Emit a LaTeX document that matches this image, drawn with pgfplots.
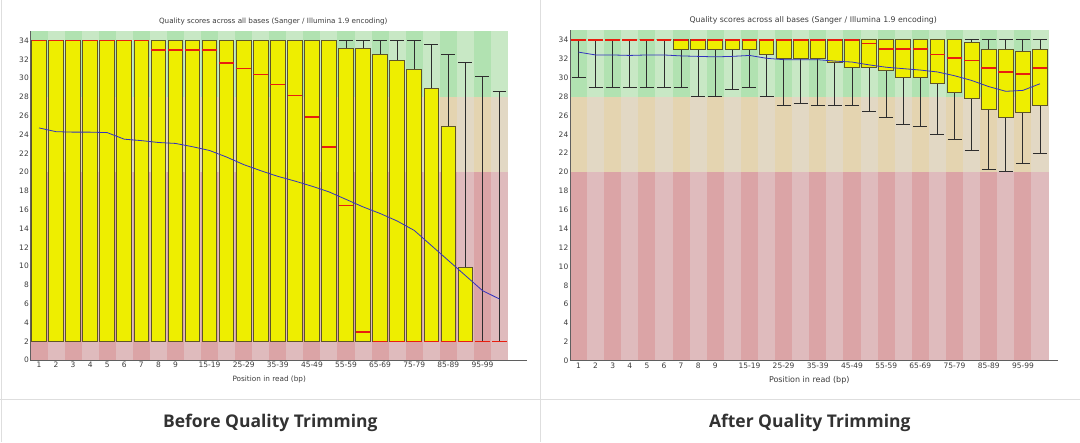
\documentclass[border=0pt]{standalone}
\usepackage{pgfplots}
\pgfplotsset{compat=1.18}
\usepackage{pgfplotstable}
\usepgfplotslibrary{statistics}
\usepackage{fontspec}
\setmainfont{DejaVu Sans}
\newfontfamily\capfont{Open Sans}

\definecolor{gd}{RGB}{177,226,177}
\definecolor{gl}{RGB}{200,232,197}
\definecolor{od}{RGB}{228,212,176}
\definecolor{ol}{RGB}{226,216,196}
\definecolor{rd}{RGB}{219,164,166}
\definecolor{rl}{RGB}{223,187,189}
\definecolor{boxyellow}{RGB}{238,238,0}
\definecolor{boxedge}{RGB}{95,85,40}
\definecolor{whisk}{RGB}{45,45,45}
\definecolor{medred}{RGB}{232,30,15}
\definecolor{meanblue}{RGB}{50,50,190}
\definecolor{axisgray}{RGB}{95,95,95}
\definecolor{ticktext}{RGB}{60,60,60}
\definecolor{framegray}{RGB}{222,222,222}
\definecolor{captext}{RGB}{50,50,50}

\pgfplotstableread{
pos lw lq med uq uw mean
1 2 2 34 34 34 24.7
2 2 2 34 34 34 24.3
3 2 2 34 34 34 24.25
4 2 2 34 34 34 24.25
5 2 2 34 34 34 24.2
6 2 2 34 34 34 23.5
7 2 2 34 34 34 23.35
8 2 2 33 34 34 23.15
9 2 2 33 34 34 23.05
10 2 2 33 34 34 22.7
11 2 2 33 34 34 22.3
12 2 2 31.6 34 34 21.6
13 2 2 31.0 34 34 20.8
14 2 2 30.4 34 34 20.15
15 2 2 29.3 34 34 19.55
16 2 2 28.15 34 34 19.05
17 2 2 25.85 34 34 18.5
18 2 2 22.65 34 34 17.9
19 2 2 16.45 33.1 34 17.1
20 2 2 3.0 33.1 34 16.3
21 2 2 2 32.5 34 15.6
22 2 2 2 31.9 34 14.8
23 2 2 2 30.9 34 13.8
24 2 2 2 28.85 33.6 12.2
25 2 2 2 24.9 32.5 10.6
26 2 2 2 9.85 31.7 9.0
27 2 2 2 2 30.2 7.4
28 2 2 2 2 28.6 6.5
}\before

\pgfplotstableread{
pos lw lq med uq uw mean
1 30 34 34 34 34 32.7
2 29 34 34 34 34 32.4
3 29 34 34 34 34 32.4
4 29 34 34 34 34 32.35
5 29 34 34 34 34 32.4
6 29 34 34 34 34 32.4
7 29 33 34 34 34 32.3
8 28 33 34 34 34 32.25
9 28 33 34 34 34 32.2
10 28.8 33 34 34 34 32.25
11 29 33 34 34 34 32.35
12 28 32.5 34 34 34 32.05
13 27.05 32 34 34 34 31.9
14 27.3 32 34 34 34 31.9
15 27.05 32 34 34 34 31.9
16 27.05 31.65 34 34 34 31.75
17 27.05 31.05 34 34 34 31.65
18 26.45 31.05 33.6 34 34 31.35
19 25.8 30.8 33.0 34 34 31.1
20 25.0 30.0 33.0 34 34 30.95
21 24.8 30.0 33.0 34 34 30.8
22 24.0 29.4 32.45 34 34 30.6
23 23.4 28.4 32.1 34 34 30.2
24 22.25 27.8 31.8 33.75 34 29.7
25 20.25 26.6 31.0 33 34 29.05
26 20.1 25.8 30.6 33 34 28.55
27 20.9 26.3 30.4 32.8 34 28.65
28 22.0 27.05 31.0 33 34 29.35
}\after

\pgfplotsset{
  fqc/.style={
    scale only axis,
    xmin=0.5, xmax=28.5, ymin=0, ymax=35,
    axis x line=bottom, axis y line=left,
    axis line style={draw=axisgray, line width=0.8pt, -},
    axis on top,
    major tick length=0pt,
    ytick={0,2,...,34},
    xtick={1,2,3,4,5,6,7,8,9,11,13,15,17,19,21,23,25,27},
    xticklabels={1,2,3,4,5,6,7,8,9,15-19,25-29,35-39,45-49,55-59,65-69,75-79,85-89,95-99},
    tick label style={font=\fontsize{7.5}{8}\selectfont, text=ticktext},
    yticklabel style={inner sep=1.5pt},
    xticklabel style={inner sep=1.5pt},
    /pgf/number format/assume math mode=true,
    clip=false,
    title={Quality scores across all bases (Sanger / Illumina 1.9 encoding)},
    title style={at={(axis description cs:0.5,1)}, anchor=center, yshift=4pt, xshift=4pt, text=ticktext},
    xlabel={Position in read (bp)},
    xlabel style={at={(axis description cs:0.5,0)}, anchor=center, yshift=-19pt, text=ticktext},
    boxplot/draw direction=y,
    boxplot/box extend=0.86,
    boxplot/whisker extend=0.82,
    boxplot/every box/.style={fill=boxyellow, draw=boxedge, line width=0.9pt},
    boxplot/every whisker/.style={draw=whisk, line width=0.9pt},
    boxplot/every median/.style={draw=medred, line width=1.6pt},
  },
}

\newcommand{\bands}{%
  \fill[gl] (axis cs:0.5,28) rectangle (axis cs:28.5,35);
  \fill[ol] (axis cs:0.5,20) rectangle (axis cs:28.5,28);
  \fill[rl] (axis cs:0.5,0) rectangle (axis cs:28.5,20);
  \pgfplotsinvokeforeach{1,3,...,27}{
    \fill[gd] (axis cs:##1,28) ++(axis direction cs:-0.5,0) rectangle ++(axis direction cs:1,7);
    \fill[od] (axis cs:##1,20) ++(axis direction cs:-0.5,0) rectangle ++(axis direction cs:1,8);
    \fill[rd] (axis cs:##1,0) ++(axis direction cs:-0.5,0) rectangle ++(axis direction cs:1,20);
  }%
}

\newcommand{\boxes}[1]{%
  \pgfplotsinvokeforeach{0,...,27}{
    \pgfplotstablegetelem{##1}{pos}\of#1\let\vpos\pgfplotsretval
    \pgfplotstablegetelem{##1}{lw}\of#1\let\vlw\pgfplotsretval
    \pgfplotstablegetelem{##1}{lq}\of#1\let\vlq\pgfplotsretval
    \pgfplotstablegetelem{##1}{med}\of#1\let\vmed\pgfplotsretval
    \pgfplotstablegetelem{##1}{uq}\of#1\let\vuq\pgfplotsretval
    \pgfplotstablegetelem{##1}{uw}\of#1\let\vuw\pgfplotsretval
    \edef\doplot{\noexpand\addplot[boxplot prepared={draw direction=y, draw position=\vpos, lower whisker=\vlw, lower quartile=\vlq, median=\vmed, upper quartile=\vuq, upper whisker=\vuw}] coordinates {};}%
    \doplot
  }%
}

\begin{document}
\begin{tikzpicture}[x=1pt,y=1pt]
\path (0,0) rectangle (1080,442);

\begin{axis}[fqc, width=478pt, height=329.4pt, at={(30pt,82pt)}, anchor=south west,
  title style={font=\fontsize{7.2}{8}\selectfont},
  xlabel style={font=\fontsize{7.3}{8}\selectfont}]
  \bands
  \boxes{\before}
  \addplot[only marks, mark=-, mark size=7.1pt, mark options={draw=medred, line width=1.6pt}] table[x=pos, y=med] {\before};
  \addplot[meanblue, line width=0.8pt, mark=none] table[x=pos, y=mean] {\before};
  \draw[axisgray, line width=0.8pt] (axis cs:28.5,0) -- (axis cs:29.6,0);
\end{axis}

\begin{axis}[fqc, width=479pt, height=330.75pt, at={(570pt,81.3pt)}, anchor=south west,
  title style={font=\fontsize{7.8}{8}\selectfont},
  xlabel style={font=\fontsize{8}{9}\selectfont}]
  \bands
  \boxes{\after}
  \addplot[meanblue, line width=0.8pt, mark=none] table[x=pos, y=mean] {\after};
  \draw[axisgray, line width=0.8pt] (axis cs:28.5,0) -- (axis cs:29.03,0);
\end{axis}

\draw[framegray, line width=1pt] (0,43) -- (1080,43);
\draw[framegray, line width=1pt] (540,0) -- (540,442);
\draw[framegray, line width=1pt] (1.5,0) -- (1.5,442);

\node[font=\capfont\bfseries\fontsize{17.5}{20}\selectfont, text=captext] at (270,19) {Before Quality Trimming};
\node[font=\capfont\bfseries\fontsize{17.5}{20}\selectfont, text=captext] at (810,19) {After Quality Trimming};
\end{tikzpicture}
\end{document}
